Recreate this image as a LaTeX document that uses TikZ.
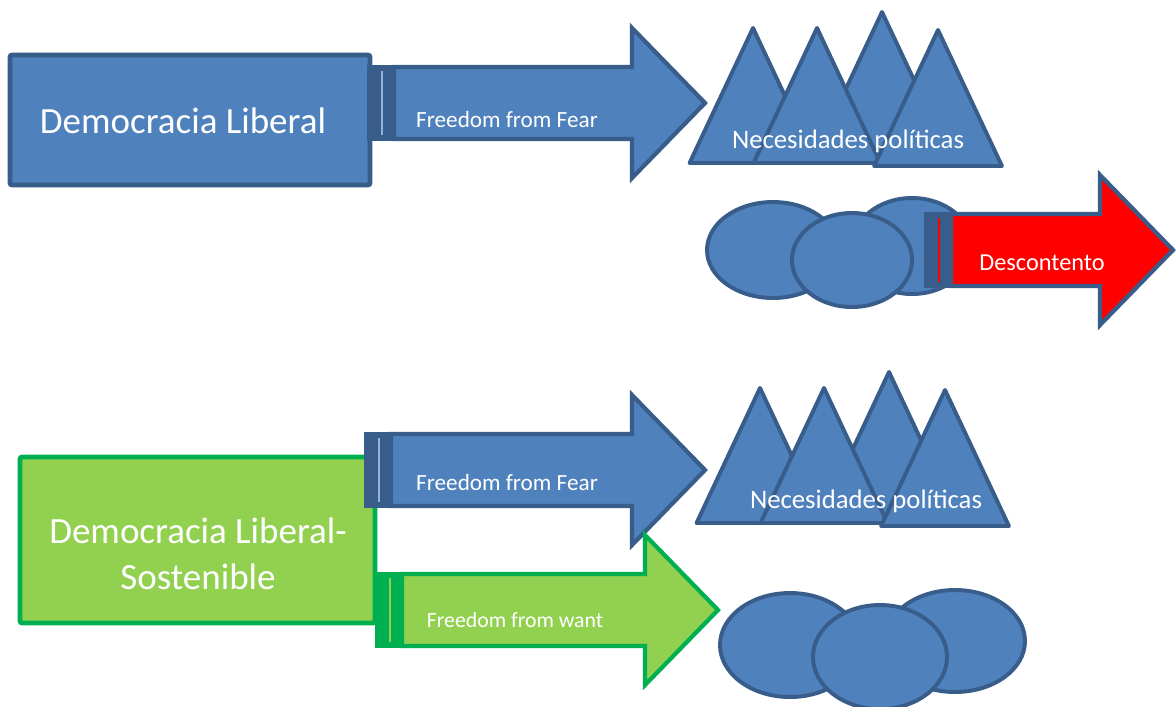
\documentclass[tikz,border=0pt]{standalone}
\usepackage{fontspec}
\setmainfont{Carlito}
\definecolor{fillblue}{HTML}{4F81BD}
\definecolor{edgeblue}{HTML}{385D8A}
\definecolor{lightblue}{HTML}{95B3D7}
\definecolor{fillgreen}{HTML}{92D050}
\definecolor{edgegreen}{HTML}{00B050}
\definecolor{fillred}{HTML}{FF0000}
\tikzset{
  bluebox/.style={fill=fillblue, draw=edgeblue, line width=3.4pt, rounded corners=1.5pt},
  greenbox/.style={fill=fillgreen, draw=edgegreen, line width=3.4pt, rounded corners=1.5pt},
  blueshape/.style={fill=fillblue, draw=edgeblue, line width=2.8pt, line join=round},
  bluearrow/.style={fill=fillblue, draw=edgeblue, line width=3pt},
  greenarrow/.style={fill=fillgreen, draw=edgegreen, line width=3pt},
  redarrow/.style={fill=fillred, draw=edgeblue, line width=3pt},
  bigtext/.style={text=white, inner sep=0pt, font=\fontsize{26.3}{32.6}\selectfont},
  midtext/.style={text=white, inner sep=0pt, font=\fontsize{19}{23}\selectfont},
  smalltext/.style={text=white, inner sep=0pt, font=\fontsize{16.5}{20}\selectfont},
}
% peak: apex x, apex y, base y
\newcommand\peak[3]{\draw[blueshape] (#1,#2) -- ({#1-0.47*(#3-#2)},#3) -- ({#1+0.47*(#3-#2)},#3) -- cycle;}
% striped arrow: style, strip fill, strip line, start x, mid y, head x, tip x
\newcommand\stripearrow[7]{%
  \draw[#1] (#4+25,#5-36) -- (#6,#5-36) -- (#6,#5-75) -- (#7,#5) -- (#6,#5+75) -- (#6,#5+36) -- (#4+25,#5+36) -- cycle;
  \draw[#1, fill=#2] (#4,#5-36) rectangle (#4+25,#5+36);
  \draw[#3, line width=1.2pt] (#4+13,#5-32) -- (#4+13,#5+32);}

\begin{document}
\begin{tikzpicture}[x=0.025cm, y=-0.025cm]
		\useasboundingbox (0,0) rectangle (1176,706);

		% upper row
		\draw[bluebox] (10,55) rectangle (370,185);
		\node[bigtext, anchor=base] (demlib) at (183,133) {Democracia Liberal};

		\stripearrow{bluearrow}{edgeblue}{lightblue}{369}{103}{632}{705}
		\node[smalltext, anchor=base] (fearup) at (507,127) {Freedom from Fear};

		\peak{882}{12}{163}
		\peak{753}{28}{163}
		\peak{817}{28}{163}
		\peak{938}{30}{166}
		\node[midtext, anchor=base] (necup) at (848,148) {Necesidades políticas};

		\draw[blueshape] (773,250) ellipse [x radius=66, y radius=48];
		\draw[blueshape] (912,246) ellipse [x radius=60, y radius=48];
		\draw[blueshape] (852,260) ellipse [x radius=60, y radius=47];

		\stripearrow{redarrow}{edgeblue}{fillred}{926}{250}{1100}{1173}
		\node[smalltext, anchor=base, font=\fontsize{17.3}{20}\selectfont] (descont) at (1042,270) {Descontento};

		% lower row
		\draw[greenbox] (20,457) rectangle (375,623);
		\node[bigtext, align=center] (demsost) at (198,554) {Democracia Liberal-\\Sostenible};

		\stripearrow{bluearrow}{edgeblue}{lightblue}{366}{470}{632}{705}
		\node[smalltext, anchor=base] (fearlow) at (507,490) {Freedom from Fear};

		\stripearrow{greenarrow}{edgegreen}{fillgreen}{377}{610}{645}{718}
		\node[smalltext, anchor=base, font=\fontsize{15.5}{19}\selectfont] (want) at (515,627) {Freedom from want};

		\peak{889}{372}{523}
		\peak{760}{388}{523}
		\peak{824}{388}{523}
		\peak{945}{390}{526}
		\node[midtext, anchor=base] (neclow) at (866,508) {Necesidades políticas};

		\draw[blueshape] (790,645) ellipse [x radius=70, y radius=52];
		\draw[blueshape] (955,641) ellipse [x radius=70, y radius=51];
		\draw[blueshape] (880,657) ellipse [x radius=67, y radius=52];
	\end{tikzpicture}
\end{document}
